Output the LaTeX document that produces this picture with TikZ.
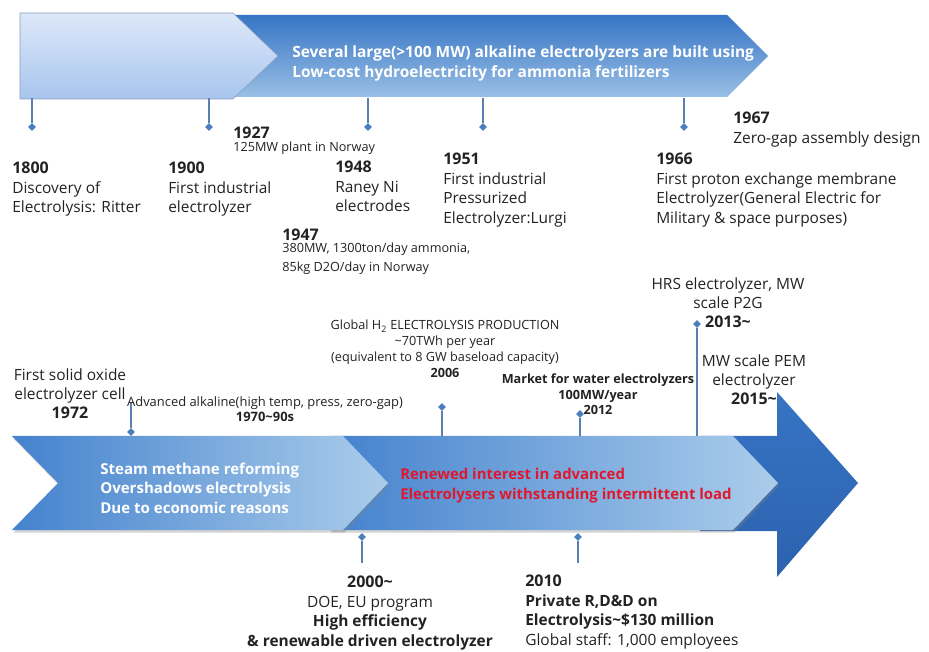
\documentclass[tikz,border=0pt]{standalone}
\usepackage{fontspec}
\setmainfont{Open Sans}
\usetikzlibrary{shapes.geometric,shadows}

\definecolor{barblue}{HTML}{3674C4}
\definecolor{bardeep}{HTML}{2C62AE}
\definecolor{barpale}{HTML}{ABCDEB}
\definecolor{barmid}{HTML}{4482CE}
\definecolor{skytop}{HTML}{DDE8F9}
\definecolor{skybot}{HTML}{A8C5EE}
\definecolor{stemblue}{HTML}{5B7FB0}
\definecolor{dotblue}{HTML}{4A7EBF}
\definecolor{alertred}{HTML}{E0182D}
\definecolor{inkgray}{HTML}{222222}

\newcommand{\yearmark}[1]{{\bfseries\fontsize{12}{14.6}\selectfont #1}}

\begin{document}
\begin{tikzpicture}[x=0.75pt,y=-0.75pt,
  dot/.style={diamond, fill=dotblue, inner sep=0pt, minimum size=6pt},
  stem/.style={draw=stemblue, line width=0.9pt},
  label/.style={font=\fontsize{11.6}{14.6}\selectfont, align=left, inner sep=0pt, anchor=north west, text=inkgray},
  small/.style={font=\fontsize{9.5}{11.8}\selectfont, align=center, inner sep=0pt, anchor=north, text=inkgray},
  banner/.style={font=\bfseries\fontsize{11.6}{14.3}\selectfont, align=left, inner sep=0pt, anchor=west, text=white}
]
\useasboundingbox (0,0) rectangle (929,652);

% upper bar
\shade[top color=barblue, bottom color=barpale!85!barblue] (200,15) -- (727,15) -- (768,56) -- (727,97) -- (200,97) -- cycle;
\shade[top color=skytop, bottom color=skybot, draw=skybot!80!black, line width=0.4pt] (20,13) -- (233,13) -- (278,56) -- (233,99) -- (20,99) -- cycle;
\node[banner] (several) at (292,63.5) {Several large(>100 MW) alkaline electrolyzers are built using\\Low-cost hydroelectricity for ammonia fertilizers};

% lower bar
\shade[top color=barblue, bottom color=bardeep] (700,436) -- (777,436) -- (777,392) -- (858,483) -- (777,577) -- (777,531) -- (700,531) -- cycle;
\shade[left color=barmid, right color=barpale, drop shadow={shadow xshift=1pt, shadow yshift=-2pt, opacity=0.35}] (330,436) -- (733,436) -- (778,483) -- (733,530) -- (330,530) -- cycle;
\shade[left color=barmid, right color=barpale, drop shadow={shadow xshift=1pt, shadow yshift=-2pt, opacity=0.35}] (12,436) -- (343,436) -- (388,483) -- (343,530) -- (12,530) -- (58,483) -- cycle;
\node[banner, font=\bfseries\fontsize{11.3}{14.6}\selectfont] (smr) at (100,488) {Steam methane reforming\\Overshadows electrolysis\\Due to economic reasons};
\node[banner, font=\bfseries\fontsize{11.2}{14.6}\selectfont, text=alertred] (renew) at (400,485.5) {Renewed interest in advanced\\Electrolysers withstanding intermittent load};

% stems of the upper bar
\coordinate (s1800) at (32,98);
\coordinate (s1900) at (209,98);
\coordinate (s1927) at (368,98);
\coordinate (s1951) at (483,98);
\coordinate (s1966) at (684,98);
\node[dot] (d1800) at (32,127) {};
\node[dot] (d1900) at (209,127) {};
\node[dot] (d1927) at (368,127) {};
\node[dot] (d1951) at (483,127) {};
\node[dot] (d1966) at (684,127) {};
\draw[stem] (s1800) -- (d1800);
\draw[stem] (s1900) -- (d1900);
\draw[stem] (s1927) -- (d1927);
\draw[stem] (s1951) -- (d1951);
\draw[stem] (s1966) -- (d1966);

% stems of the lower bar
\coordinate (t1970) at (131,403);
\coordinate (t2006) at (442,436);
\coordinate (t2012) at (580,436);
\coordinate (t2013) at (697,436);
\coordinate (t2000) at (362,563);
\coordinate (t2010) at (578,563);
\node[dot] (d1970) at (131,432) {};
\node[dot] (d2006) at (442,407) {};
\node[dot] (d2012) at (580,414) {};
\node[dot] (d2013) at (697,324) {};
\node[dot] (d2000) at (362,537) {};
\node[dot] (d2010) at (578,537) {};
\draw[stem] (t1970) -- (d1970);
\draw[stem] (d2006) -- (t2006);
\draw[stem] (d2012) -- (t2012);
\draw[stem] (d2013) -- (t2013);
\draw[stem] (d2000) -- (t2000);
\draw[stem] (d2010) -- (t2010);

% upper labels
\node[label] (l1800) at (12,162) {\yearmark{1800}\\Discovery of\\Electrolysis: Ritter};
\node[label] (l1900) at (168,162) {\yearmark{1900}\\First industrial\\electrolyzer};
\node[label] (l1927) at (233,127) {\yearmark{1927}};
\node[small, anchor=north west] (n1927) at (233,142) {125MW plant in Norway};
\node[label] (l1948) at (335,161) {\yearmark{1948}\\Raney Ni\\electrodes};
\node[label] (l1947) at (282,229) {\yearmark{1947}};
\node[small, anchor=north west, align=left, font=\fontsize{9.5}{14.3}\selectfont] (n1947) at (282,243) {380MW, 1300ton/day ammonia,\\85kg D2O/day in Norway};
\node[label] (l1951) at (443,153) {\yearmark{1951}\\First industrial\\Pressurized\\Electrolyzer:Lurgi};
\node[label] (l1966) at (656,153) {\yearmark{1966}\\First proton exchange membrane\\Electrolyzer(General Electric for\\Military \& space purposes)};
\node[label] (l1967) at (733,112) {\yearmark{1967}\\Zero-gap assembly design};

% lower labels
\node[label, anchor=north, align=center] (l1972) at (70,368) {First solid oxide\\electrolyzer cell\\\yearmark{1972}};
\node[small, font=\fontsize{9.7}{11.3}\selectfont] (l1970) at (265,396) {Advanced alkaline(high temp, press, zero-gap)\\\textbf{1970\textasciitilde 90s}};
\node[small] (l2006) at (445,320) {Global H\textsubscript{2} ELECTROLYSIS PRODUCTION\\\textasciitilde 70TWh per year\\(equivalent to 8 GW baseload capacity)\\\textbf{2006}};
\node[small, font=\bfseries\fontsize{9.5}{11.6}\selectfont] (l2012) at (598,374) {Market for water electrolyzers\\100MW/year\\2012};
\node[label, anchor=north, align=center] (l2013) at (728,277) {HRS electrolyzer, MW\\scale P2G\\\yearmark{2013\textasciitilde}};
\node[label, anchor=north, align=center] (l2015) at (754,354) {MW scale PEM\\electrolyzer\\\yearmark{2015\textasciitilde}};
\node[label, anchor=north, align=center] (l2000) at (370,576) {\yearmark{2000\textasciitilde}\\DOE, EU program\\\textbf{High efficiency}\\\textbf{\& renewable driven electrolyzer}};
\node[label] (l2010) at (525,575) {\yearmark{2010}\\\textbf{Private R,D\&D on}\\\textbf{Electrolysis\textasciitilde\$130 million}\\Global staff: 1,000 employees};
\end{tikzpicture}
\end{document}
